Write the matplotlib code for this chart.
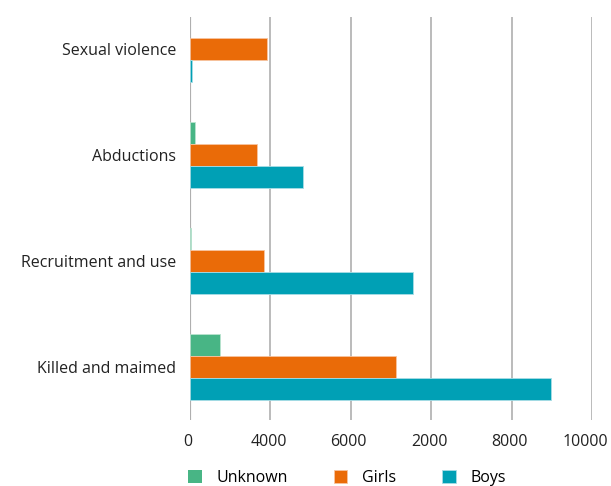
import numpy as np
import matplotlib.pyplot as plt
import matplotlib.transforms as mtransforms

plt.rcParams['font.family'] = ['Open Sans', 'DejaVu Sans']

categories = ['Sexual violence', 'Abductions', 'Recruitment and use', 'Killed and maimed']
unknown = [0, 115, 20, 750]
girls = [1925, 1660, 1850, 5120]
boys = [60, 2800, 5550, 8990]
tick_values = [0, 2000, 4000, 6000, 8000, 10000]
tick_labels = ['0', '4000', '6000', '2000', '8000', '10000']

c_unknown = '#48b585'
c_girls = '#ea6b08'
c_boys = '#00a0b5'

fig = plt.figure(figsize=(6.11, 4.86), dpi=100)
ax = fig.add_axes([190/611, 1-420/486, 402/611, 403/486])

y = np.arange(len(categories))
h = 0.2075
# no outline on empty bars
lw_u = [0.6 if v > 0 else 0 for v in unknown]
ax.barh(y - h, unknown, height=h, color=c_unknown, edgecolor='#b9e3cf', linewidth=lw_u, label='Unknown')
ax.barh(y, girls, height=h, color=c_girls, edgecolor='#f7c4a0', linewidth=0.6, label='Girls')
ax.barh(y + h, boys, height=h, color=c_boys, edgecolor='#a8dde5', linewidth=0.6, label='Boys')

ax.set_xlim(0, 10000)
ax.set_ylim(3.5, -0.302)
ax.set_xticks(tick_values)
ax.set_xticklabels(tick_labels)
ax.set_yticks(y)
ax.set_yticklabels(categories)
ax.tick_params(length=0, labelsize=11.5, colors='#222222')
ax.tick_params(axis='x', pad=10)
ax.tick_params(axis='y', pad=10)

# labels sit a little left of the gridlines
for i, lab in enumerate(ax.get_xticklabels()):
    dx = -7 if i == len(tick_values) - 1 else -2
    lab.set_transform(lab.get_transform() + mtransforms.ScaledTranslation(dx/100, 0, fig.dpi_scale_trans))

for s in ax.spines.values():
    s.set_visible(False)
ax.set_axisbelow(True)
ax.grid(axis='x', color='#a8a8a8', linewidth=1.1)
ax.axvline(0, color='#c8c8c8', linewidth=1.6, zorder=0.5)

fig.legend(loc='center', bbox_to_anchor=(347/611, 1-478/486), ncol=3, frameon=False,
           handlelength=0.85, handleheight=0.85, handletextpad=0.9, columnspacing=2.9,
           fontsize=11.5)

fig.savefig('out.png', dpi=100)
